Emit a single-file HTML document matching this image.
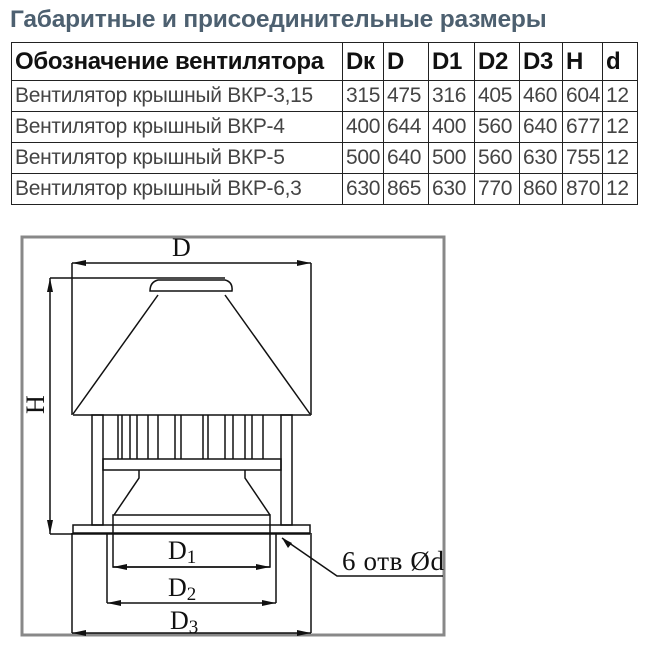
<!DOCTYPE html>
<html><head><meta charset="utf-8"><style>
body{margin:0;width:664px;height:666px;background:#fff;position:relative;overflow:hidden;font-family:"Liberation Sans",sans-serif}
h1{position:absolute;left:10px;top:6px;margin:0;font-size:24.5px;font-weight:bold;color:#4d6070;letter-spacing:-0.2px;white-space:nowrap}
table{position:absolute;left:11px;top:42px;border-collapse:collapse;table-layout:fixed;width:626px}
td{border:1px solid #222;padding:0 0 0 3px;font-size:21px;color:#444;height:30px;white-space:nowrap;overflow:hidden;letter-spacing:-0.3px}
tr.h td{font-weight:bold;font-size:24px;color:#111;height:37px;letter-spacing:-0.3px}
</style></head><body>
<h1>Габаритные и присоединительные размеры</h1>
<table>
<col style="width:331px"><col style="width:41px"><col style="width:45px"><col style="width:46px"><col style="width:45px"><col style="width:43px"><col style="width:40px"><col style="width:35px">
<tr class="h"><td>Обозначение вентилятора</td><td>Dк</td><td>D</td><td>D1</td><td>D2</td><td>D3</td><td>H</td><td>d</td></tr>
<tr><td>Вентилятор крышный ВКР-3,15</td><td>315</td><td>475</td><td>316</td><td>405</td><td>460</td><td>604</td><td>12</td></tr>
<tr><td>Вентилятор крышный ВКР-4</td><td>400</td><td>644</td><td>400</td><td>560</td><td>640</td><td>677</td><td>12</td></tr>
<tr><td>Вентилятор крышный ВКР-5</td><td>500</td><td>640</td><td>500</td><td>560</td><td>630</td><td>755</td><td>12</td></tr>
<tr><td>Вентилятор крышный ВКР-6,3</td><td>630</td><td>865</td><td>630</td><td>770</td><td>860</td><td>870</td><td>12</td></tr>
</table>
<svg width="664" height="666" style="position:absolute;left:0;top:0" font-family="Liberation Serif,serif">
<rect x="22" y="237" width="422" height="398" fill="#fff" stroke="#888" stroke-width="3"/>
<g stroke="#111" stroke-width="1.5" fill="none">
<line x1="72" y1="263" x2="311" y2="263"/>
<line x1="72" y1="263" x2="72" y2="415"/><line x1="311" y1="263" x2="311" y2="415"/>
<line x1="50" y1="278" x2="225" y2="278"/>
<line x1="50" y1="278" x2="50" y2="534"/>
<line x1="50" y1="534" x2="310" y2="534"/>
<path d="M158,280 H225 Q233,282 232,291 H150 Q150,282 158,280Z"/>
<line x1="158" y1="295" x2="73" y2="414"/><line x1="225" y1="295" x2="310" y2="414"/>
<line x1="73" y1="415" x2="311" y2="415"/>
<rect x="92" y="415" width="11" height="110"/><rect x="281" y="415" width="11" height="110"/>
<rect x="103" y="459" width="178" height="11"/>
<path d="M118,415V459 M122,415V459 M130,415V459 M137,415V459 M148,415V459 M158,415V459 M175,415V459 M181,415V459 M203,415V459 M208,415V459 M225,415V459 M233,415V459 M245,415V459 M252,415V459 M263,415V459"/>
<path d="M139,470 V478 L114,515 M245,470 V478 L270,515"/>
<rect x="113" y="515" width="157" height="52"/>
<rect x="73" y="525" width="237" height="8"/>
<line x1="72" y1="533" x2="72" y2="633"/><line x1="311" y1="533" x2="311" y2="633"/>
<line x1="107" y1="533" x2="107" y2="603"/><line x1="276" y1="533" x2="276" y2="603"/>
<line x1="113" y1="567" x2="270" y2="567"/>
<line x1="107" y1="603" x2="276" y2="603"/>
<line x1="72" y1="633" x2="311" y2="633"/>
<polyline points="282,538 337,576 443,576"/>
</g>
<g fill="#111">
<path d="M72,263 l14,-3 v6z M311,263 l-14,-3 v6z M50,278 l-3,14 h6z M50,534 l-3,-14 h6z M113,567 l14,-3 v6z M270,567 l-14,-3 v6z M107,603 l14,-3 v6z M276,603 l-14,-3 v6z M72,633 l14,-3 v6z M311,633 l-14,-3 v6z M282,538 l6,10 l4,-5z"/>
</g>
<g font-size="26" fill="#111">
<text x="172" y="256">D</text>
<text x="168" y="559">D<tspan font-size="19" dy="4">1</tspan></text>
<text x="168" y="596">D<tspan font-size="19" dy="4">2</tspan></text>
<text x="170" y="629">D<tspan font-size="19" dy="4">3</tspan></text>
<text x="342" y="570" font-size="27" textLength="102">6 отв Ød</text>
<text transform="translate(44,414) rotate(-90)" font-size="26">H</text>
</g>
</svg>
</body></html>
